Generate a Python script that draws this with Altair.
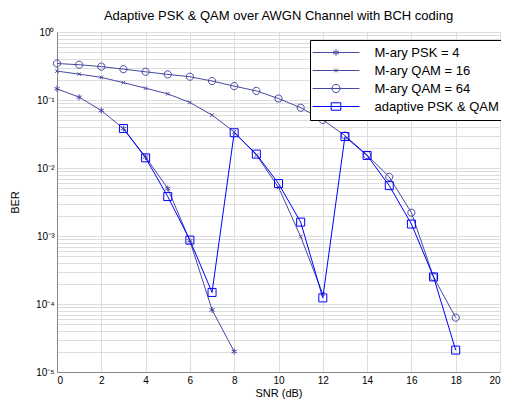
import altair as alt
import pandas as pd

# ---- data ----
series_names = ["M-ary PSK = 4", "M-ary QAM = 16", "M-ary QAM = 64", "adaptive PSK & QAM"]

snr_psk4 = [0, 1, 2, 3, 4, 5, 6, 7, 8]
ber_psk4 = [0.146, 0.110, 0.070, 0.038, 0.0145, 0.0050, 0.00085, 0.000082, 0.00002]

snr_qam16 = [0, 1, 2, 3, 4, 5, 6, 7, 8, 9, 10, 11, 12]
ber_qam16 = [0.266, 0.24, 0.215, 0.18, 0.149, 0.123, 0.092, 0.060, 0.034, 0.0155, 0.0052, 0.00098, 0.00014]

snr_qam64 = list(range(0, 19))
ber_qam64 = [0.344, 0.33, 0.31, 0.284, 0.26, 0.238, 0.22, 0.19, 0.16, 0.136, 0.105,
             0.077, 0.051, 0.030, 0.0155, 0.0074, 0.0022, 0.00025, 0.000063]

snr_adapt = list(range(3, 19))
ber_adapt = [0.038, 0.0141, 0.0038, 0.00087, 0.000148, 0.033, 0.016, 0.0059, 0.0016,
             0.000123, 0.029, 0.0153, 0.0055, 0.0015, 0.00025, 0.000021]

x_ticks = list(range(0, 21, 2))
y_decade_labels = ["10⁰", "10⁻¹", "10⁻²", "10⁻³", "10⁻⁴", "10⁻⁵"]

# ---- styling ----
thin = "#4848a4"
blue = "#0000ff"
colors = [thin, thin, thin, blue]
widths = [1.0, 1.0, 1.0, 2.5]
font = "Liberation Sans"

# marker-only paths (plot)
star = "M0,-0.6L0,0.6M-0.52,-0.3L0.52,0.3M-0.52,0.3L0.52,-0.3"
xmark = "M-0.35,-0.35L0.35,0.35M-0.35,0.35L0.35,-0.35"
circ = "M-0.72,0A0.72,0.72 0 1,0 0.72,0A0.72,0.72 0 1,0 -0.72,0Z"
sq = "M-0.8,-0.8L0.8,-0.8L0.8,0.8L-0.8,0.8Z"
marker_paths = [star, xmark, circ, sq]

# line + marker paths (legend)
line_seg = "M-3.9,0L3.9,0"
l_star = "M0,-0.55L0,0.55M-0.48,-0.28L0.48,0.28M-0.48,0.28L0.48,-0.28"
l_x = "M-0.3,-0.3L0.3,0.3M-0.3,0.3L0.3,-0.3"
l_circ = "M-0.68,0A0.68,0.68 0 1,0 0.68,0A0.68,0.68 0 1,0 -0.68,0Z"
l_sq = "M-0.8,-0.62L0.8,-0.62L0.8,0.62L-0.8,0.62Z"
legend_paths = [line_seg + l_star, line_seg + l_x, line_seg + l_circ, line_seg + l_sq]

frames = []
for name, xs, ys in zip(series_names,
                        [snr_psk4, snr_qam16, snr_qam64, snr_adapt],
                        [ber_psk4, ber_qam16, ber_qam64, ber_adapt]):
    frames.append(pd.DataFrame({"snr": xs, "ber": ys, "series": name}))
df = pd.concat(frames, ignore_index=True)

y_grid = [1.0] + [m * 10.0 ** (-k) for k in range(1, 6) for m in range(1, 10)]
lab_arr = "[" + ",".join("'" + s + "'" for s in y_decade_labels) + "]"
y_label_expr = ("abs(log(datum.value)/LN10 - round(log(datum.value)/LN10)) < 0.001 ? "
                + lab_arr + "[-round(log(datum.value)/LN10)] : ''")

x_enc = alt.X("snr:Q", scale=alt.Scale(domain=[0, 20], nice=False),
              axis=alt.Axis(values=x_ticks, title="SNR (dB)", grid=True, ticks=False,
                            labelPadding=3, titlePadding=2, titleFontWeight="normal"))
y_enc = alt.Y("ber:Q", scale=alt.Scale(type="log", domain=[1e-5, 1], nice=False),
              axis=alt.Axis(values=y_grid, labelExpr=y_label_expr, title="BER",
                            grid=True, ticks=False, labelPadding=3, titlePadding=15,
                            titleFontWeight="normal"))

stroke_scale = alt.Scale(domain=series_names, range=colors)
sw_scale = alt.Scale(domain=series_names, range=widths)

base = alt.Chart(df)

lines = base.mark_line().encode(
    x=x_enc, y=y_enc,
    stroke=alt.Stroke("series:N", scale=stroke_scale, legend=None),
    strokeWidth=alt.StrokeWidth("series:N", scale=sw_scale, legend=None),
    order="snr:Q",
)

markers = base.mark_point(filled=False, size=100, opacity=1).encode(
    x="snr:Q", y="ber:Q",
    shape=alt.Shape("series:N", scale=alt.Scale(domain=series_names, range=marker_paths), legend=None),
    stroke=alt.Stroke("series:N", scale=stroke_scale, legend=None),
    strokeWidth=alt.StrokeWidth("series:N", scale=alt.Scale(domain=series_names, range=[1, 1, 1, 2]),
                                legend=None),
)

leg = alt.Legend(title=None, orient="none", legendX=253, legendY=8,
                 fillColor="white", strokeColor="black", padding=6,
                 labelFont=font, labelFontSize=13, labelColor="black",
                 labelExpr="datum.label + '\u00a0\u00a0\u00a0'",
                 labelOffset=32, symbolOffset=13.5, symbolSize=144, rowPadding=4,
                 symbolOpacity=1)

legend_layer = base.transform_filter("false").mark_point(filled=False, size=144).encode(
    x="snr:Q", y="ber:Q",
    shape=alt.Shape("series:N", scale=alt.Scale(domain=series_names, range=legend_paths), legend=leg),
    stroke=alt.Stroke("series:N", scale=stroke_scale, legend=leg),
    strokeWidth=alt.StrokeWidth("series:N", scale=alt.Scale(domain=series_names, range=[1, 1, 1, 2]),
                                legend=leg),
)

chart = alt.layer(lines, markers, legend_layer).resolve_scale(
    shape="independent", stroke="independent", strokeWidth="independent"
).properties(
    width=443, height=340,
    title=alt.Title("Adaptive PSK & QAM over AWGN Channel with BCH coding",
                    font=font, fontSize=13, fontWeight="normal", color="black", offset=4),
    autosize=alt.AutoSizeParams(type="none"),
    padding={"left": 49, "top": 24, "right": 1, "bottom": 28},
).configure_view(stroke="black", strokeWidth=1).configure_axis(
    gridColor="#000000", gridDash=[1, 2], gridWidth=0.6, gridOpacity=0.85,
    domain=False, labelFont=font, labelFontSize=13, labelColor="black",
    titleFont=font, titleFontSize=13, titleFontWeight="normal", titleColor="black",
).configure(background="white")

chart.save("out.html", embed_options={"renderer": "svg", "actions": False})
